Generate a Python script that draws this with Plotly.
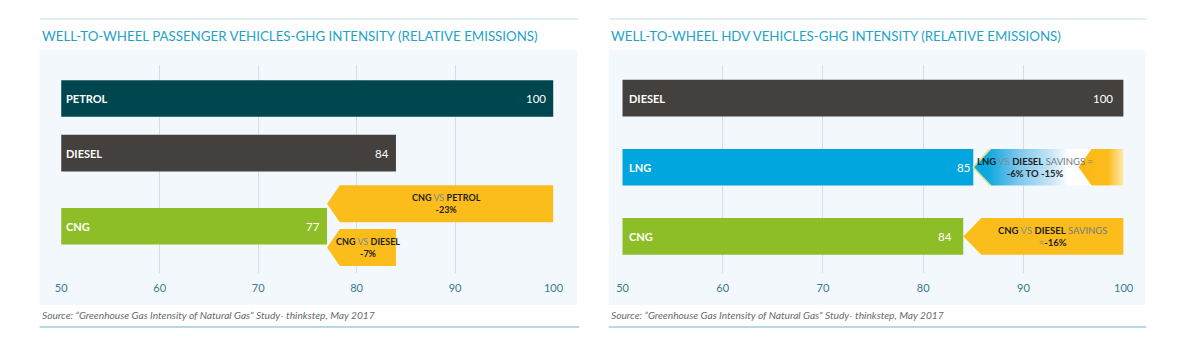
import plotly.graph_objects as go

# ---------------- data ----------------
pv_categories = ["PETROL", "DIESEL", "CNG"]
pv_values = [100, 84, 77]
hdv_categories = ["DIESEL", "LNG", "CNG"]
hdv_values = [100, 85, 84]
tick_values = [50, 60, 70, 80, 90, 100]
tick_labels = ["50", "60", "70", "80", "90", "100"]
lng_savings_range = [85, 94]   # -15% .. -6% relative to diesel = 100

pv_title = "WELL-TO-WHEEL PASSENGER VEHICLES-GHG INTENSITY (RELATIVE EMISSIONS)"
hdv_title = "WELL-TO-WHEEL HDV VEHICLES-GHG INTENSITY (RELATIVE EMISSIONS)"
source_text = "Source: “Greenhouse Gas Intensity of Natural Gas” Study- thinkstep, May 2017"

VS = "<span style='color:#7f8b91'>VS</span>"
SAV = "<span style='color:#6f7c83'>SAVINGS</span>"
# callouts: (from category, to category, text)
pv_callouts = [
    ("CNG", "PETROL", f"<b>CNG</b> {VS} <b>PETROL</b><br><b>-23%</b>"),
    ("CNG", "DIESEL", f"<b>CNG</b> {VS} <b>DIESEL</b><br><b>-7%</b>"),
]
hdv_callouts = [
    ("LNG", "DIESEL", f"<b>LNG</b> {VS} <b>DIESEL</b> {SAV} <span style='color:#6f7c83'>=</span><br><b>-6% TO -15%</b>"),
    ("CNG", "DIESEL", f"<b>CNG</b> {VS} <b>DIESEL</b> {SAV}<br><span style='color:#6f7c83'>=</span><b>-16%</b>"),
]

# ---------------- styles / layout ----------------
W, H = 1178, 353
FONT = "Lato"
pv_colors = {"PETROL": "#00464f", "DIESEL": "#44403d", "CNG": "#8ebe27"}
hdv_colors = {"DIESEL": "#44403d", "LNG": "#02a6df", "CNG": "#8ebe27"}
YELLOW = "#fbbd1c"
AX_MIN, AX_MAX = tick_values[0], tick_values[-1]

pv_rows = [0, 1, 2.34]
pv_bar_w = 0.67
pv_callout_rows = [1.927, 2.73]
pv_callout_half = 0.34
pv_depth = 1.3

hdv_rows = [0, 1, 2]
hdv_bar_w = 0.53
hdv_depth = 1.8


def px_x(p):
    return p / W


def px_y(p):
    return 1 - p / H


def pentagon(x_tip, x_end, yc, half, depth):
    xs = [x_tip, x_tip + depth, x_end, x_end, x_tip + depth, x_tip]
    ys = [yc, yc - half, yc - half, yc + half, yc + half, yc]
    return xs, ys


fig = go.Figure()

# ---- left chart bars ----
fig.add_trace(go.Bar(
    orientation="h", x=pv_values, y=pv_rows, width=pv_bar_w,
    marker=dict(color=[pv_colors[c] for c in pv_categories], line=dict(width=0)),
    xaxis="x", yaxis="y", hoverinfo="skip", showlegend=False))

# ---- right chart bars ----
fig.add_trace(go.Bar(
    orientation="h", x=hdv_values, y=hdv_rows, width=hdv_bar_w,
    marker=dict(color=[hdv_colors[c] for c in hdv_categories], line=dict(width=0)),
    xaxis="x2", yaxis="y2", hoverinfo="skip", showlegend=False))

annotations = []

# ---- left callouts ----
pv_val = dict(zip(pv_categories, pv_values))
for (a, b, txt), yc in zip(pv_callouts, pv_callout_rows):
    x0, x1 = pv_val[a], pv_val[b]
    xs, ys = pentagon(x0, x1, yc, pv_callout_half, pv_depth)
    fig.add_trace(go.Scatter(x=xs, y=ys, mode="lines", fill="toself",
                             fillcolor=YELLOW, line=dict(width=0),
                             xaxis="x", yaxis="y", hoverinfo="skip", showlegend=False))
    annotations.append(dict(x=(x0 + pv_depth + x1) / 2, y=yc, xref="x", yref="y",
                            text=txt, showarrow=False, align="center",
                            font=dict(family=FONT, size=9, color="#1e1f22")))

# ---- right callouts ----
hdv_val = dict(zip(hdv_categories, hdv_values))
hdv_row = dict(zip(hdv_categories, hdv_rows))
half = hdv_bar_w / 2
for a, b, txt in hdv_callouts:
    x0, x1 = hdv_val[a], hdv_val[b]
    yc = hdv_row[a]
    xs, ys = pentagon(x0, x1, yc, half, hdv_depth)
    if a == "LNG":
        lo, hi = lng_savings_range
        f = (hi - x0) / (x1 - x0)
        fig.add_trace(go.Scatter(
            x=xs, y=ys, mode="lines", fill="toself", line=dict(width=0),
            fillgradient=dict(type="horizontal", colorscale=[
                [0, "#05a6df"], [0.1, "#0ea8df"], [f * 0.5, "#7cc7ec"],
                [f * 0.85, "#c4e4f5"], [f, "#eef7fc"], [min(f + 0.03, 1), "#ffffff"], [1, "#ffffff"]]),
            xaxis="x2", yaxis="y2", hoverinfo="skip", showlegend=False))
        # chevron outline
        fig.add_trace(go.Scatter(
            x=[x0 + hdv_depth * 0.95, x0, x0 + hdv_depth * 0.95],
            y=[yc - half, yc, yc + half], mode="lines",
            line=dict(color="#d5dd8a", width=1.6),
            xaxis="x2", yaxis="y2", hoverinfo="skip", showlegend=False))
        # yellow chevron at the end of the savings range
        ytip = hi + 1.5
        xs2, ys2 = pentagon(ytip, x1, yc, half, 1.3)
        fig.add_trace(go.Scatter(
            x=xs2, y=ys2, mode="lines", fill="toself", line=dict(width=0),
            fillgradient=dict(type="horizontal", colorscale=[
                [0, "#fbb817"], [0.65, "#fbbd1c"], [1, "#fdeab0"]]),
            xaxis="x2", yaxis="y2", hoverinfo="skip", showlegend=False))
        tx = (x0 + hdv_depth + ytip) / 2
    else:
        fig.add_trace(go.Scatter(x=xs, y=ys, mode="lines", fill="toself",
                                 fillcolor=YELLOW, line=dict(width=0),
                                 xaxis="x2", yaxis="y2", hoverinfo="skip", showlegend=False))
        tx = (x0 + hdv_depth + x1) / 2
    annotations.append(dict(x=tx, y=yc, xref="x2", yref="y2", text=txt,
                            showarrow=False, align="center",
                            font=dict(family=FONT, size=9.5, color="#1e1f22")))

# ---- bar labels ----
for c, v, r in zip(pv_categories, pv_values, pv_rows):
    annotations.append(dict(x=AX_MIN, y=r, xref="x", yref="y", text=f"<b>{c}</b>",
                            xanchor="left", xshift=3, showarrow=False,
                            font=dict(family=FONT, size=11, color="white")))
    annotations.append(dict(x=v, y=r, xref="x", yref="y", text=str(v),
                            xanchor="right", xshift=-5, showarrow=False,
                            font=dict(family=FONT, size=11.5, color="white")))
for c, v, r in zip(hdv_categories, hdv_values, hdv_rows):
    annotations.append(dict(x=AX_MIN, y=r, xref="x2", yref="y2", text=f"<b>{c}</b>",
                            xanchor="left", xshift=4, showarrow=False,
                            font=dict(family=FONT, size=11, color="white")))
    annotations.append(dict(x=v, y=r, xref="x2", yref="y2", text=str(v),
                            xanchor="right", xshift=(-1 if c == "LNG" else -9), showarrow=False,
                            font=dict(family=FONT, size=11.5, color="white")))

# ---- titles and sources ----
panels = [(34, 579, 34, 581, pv_title), (611, 1155, 611, 1156, hdv_title)]
shapes = []
for bx0, bx1, rx0, rx1, title in panels:
    shapes.append(dict(type="rect", xref="paper", yref="paper", layer="below",
                       x0=px_x(bx0), x1=px_x(bx1), y0=px_y(305), y1=px_y(50),
                       fillcolor="#f3f8fc", line=dict(width=0)))
    shapes.append(dict(type="line", xref="paper", yref="paper",
                       x0=px_x(rx0), x1=px_x(rx1), y0=px_y(19), y1=px_y(19),
                       line=dict(color="#c3e1eb", width=1)))
    shapes.append(dict(type="line", xref="paper", yref="paper",
                       x0=px_x(rx0), x1=px_x(rx1), y0=px_y(327), y1=px_y(327),
                       line=dict(color="#b5d9e7", width=2)))
    annotations.append(dict(x=px_x(rx0), y=px_y(36), xref="paper", yref="paper",
                            xanchor="left", yanchor="middle", showarrow=False, text=title,
                            font=dict(family=FONT, size=13.3, color="#22a2c9")))
    annotations.append(dict(x=px_x(rx0), y=px_y(315), xref="paper", yref="paper",
                            xanchor="left", yanchor="middle", showarrow=False,
                            text=f"<i>{source_text}</i>",
                            font=dict(family=FONT, size=10.2, color="#666a6e")))

xcommon = dict(range=[AX_MIN, AX_MAX], tickvals=tick_values, ticktext=tick_labels,
               showgrid=True, gridcolor="#d6dde3", gridwidth=1, zeroline=False,
               showline=False, ticks="outside", ticklen=5, tickcolor="rgba(0,0,0,0)",
               tickfont=dict(family=FONT, size=11, color="#3b7891"), fixedrange=True)
ydom = [px_y(272.5), px_y(65)]

fig.update_layout(
    width=W, height=H, margin=dict(l=0, r=0, t=0, b=0),
    paper_bgcolor="white", plot_bgcolor="rgba(0,0,0,0)",
    showlegend=False, barmode="overlay",
    xaxis=dict(domain=[px_x(56), px_x(555)], anchor="y", **xcommon),
    yaxis=dict(domain=ydom, anchor="x", range=[3.187, -0.615], visible=False, fixedrange=True),
    xaxis2=dict(domain=[px_x(625), px_x(1133)], anchor="y2", **xcommon),
    yaxis2=dict(domain=ydom, anchor="x2", range=[2.522, -0.478], visible=False, fixedrange=True),
    shapes=shapes, annotations=annotations,
)

fig.write_html("out.html", config={"displayModeBar": False})
